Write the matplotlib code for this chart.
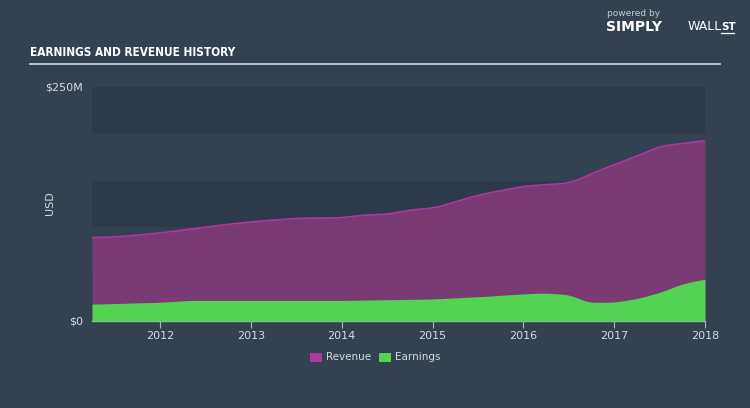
import matplotlib
matplotlib.use("Agg")
import matplotlib.pyplot as plt
from matplotlib.patches import Rectangle
import numpy as np

# Data (decimal years, values in $M)
rev_x = [2011.25, 2011.55, 2012.0, 2012.33, 2012.55, 2013.0, 2013.55, 2014.0, 2014.2, 2014.53, 2014.75,
         2015.0, 2015.24, 2015.52, 2015.74, 2016.0, 2016.3, 2016.52, 2016.74, 2017.0, 2017.28, 2017.5, 2017.72, 2018.0]
rev_y = [89, 90, 94, 98, 101, 106, 110, 110, 113, 114, 119,
         120, 127, 135, 139, 144, 146, 147, 157, 167, 177, 187, 189, 193]
earn_x = [2011.25, 2012.0, 2012.33, 2013.0, 2014.0, 2015.0, 2015.52, 2016.0, 2016.24, 2016.52, 2016.7,
          2017.0, 2017.28, 2017.55, 2017.72, 2018.0]
earn_y = [18, 20, 22, 22, 22, 23.5, 26, 29, 30, 28, 20,
          20, 24.5, 32, 39, 45]
year_ticks = [2012, 2013, 2014, 2015, 2016, 2017, 2018]
y_ticks = [0, 250]
y_tick_labels = ["$0", "$250M"]
legend_labels = ["Revenue", "Earnings"]

BG = "#334151"
BAND = "#2d3a49"
REV_FILL = "#7a3a73"
REV_LINE = "#b0379c"
EARN = "#52d452"
TXT = "#d5dbe2"

fig = plt.figure(figsize=(7.5, 4.08), dpi=100)
fig.patch.set_facecolor(BG)
ax = fig.add_axes([92/750, 1-321/408, (705-92)/750, (321-87)/408])
ax.set_facecolor(BG)
ax.set_xlim(2011.25, 2018.0)
ax.set_ylim(0, 250)

for lo in (0, 100, 200):
    ax.axhspan(lo, lo + 50, color=BAND, zorder=0, lw=0)

rx = np.array(rev_x); ry = np.array(rev_y)
ex = np.array(earn_x); ey = np.array(earn_y)
xs = np.linspace(2011.25, 2018.0, 600)
def smooth(x, y, xs, k):
    yi = np.interp(xs, x, y)
    pad = np.pad(yi, k, mode="edge")
    return np.convolve(pad, np.ones(2*k+1)/(2*k+1), mode="valid")
rs = smooth(rx, ry, xs, 12)
es = smooth(ex, ey, xs, 8)
ax.fill_between(xs, 0, rs, color=REV_FILL, lw=0, zorder=2)
ax.plot(xs, rs, color=REV_LINE, lw=1.2, zorder=3)
ax.fill_between(xs, 0, es, color=EARN, lw=0, zorder=4)

for s in ax.spines.values():
    s.set_visible(False)
ax.spines["bottom"].set_visible(True)
ax.spines["bottom"].set_color("#aab4bf")
ax.spines["bottom"].set_linewidth(1)
ax.set_xticks(year_ticks)
ax.set_xticklabels([str(y) for y in year_ticks])
ax.tick_params(axis="x", colors="#aab4bf", labelcolor=TXT, length=5, labelsize=8, pad=2)
ax.set_yticks([])

for v, lab in zip(y_ticks, y_tick_labels):
    ax.text(-0.015, v, lab, transform=ax.get_yaxis_transform(), ha="right",
            va="center", color=TXT, fontsize=8)
fig.text(50/750, 1-203/408, "USD", rotation=90, ha="center", va="center", color=TXT, fontsize=8)

# Title
fig.text(30/750, 1-52/408, "EARNINGS AND REVENUE HISTORY", color="white", fontsize=8.5,
         fontweight="bold", family="DejaVu Sans", fontstretch="condensed", va="center", ha="left")
fig.add_artist(plt.Line2D([30/750, 720/750], [1-64/408, 1-64/408], color="#c5ccd4", lw=1.3))

# Logo text
fig.text(607/750, 1-14/408, "powered by", color="#c5ccd4", fontsize=6.5, ha="left", va="center")
fig.text(606/750, 1-27/408, "SIMPLY", color="white", fontsize=10, fontweight="bold", ha="left", va="center")
fig.text(688/750, 1-27/408, "WALL", color="white", fontsize=9, ha="left", va="center")
fig.text(721/750, 1-27/408, "ST", color="white", fontsize=7.5, fontweight="bold", ha="left", va="center")
fig.add_artist(plt.Line2D([721/750, 734/750], [1-33/408, 1-33/408], color="white", lw=0.9))

# Legend
for (x0, lab, col) in [(310, legend_labels[0], "#b0379c"), (379, legend_labels[1], EARN)]:
    fig.add_artist(Rectangle((x0/750, 1-362/408), 12/750, 9/408, transform=fig.transFigure,
                             color=col, lw=0))
    fig.text((x0+16)/750, 1-357.5/408, lab, color=TXT, fontsize=7.5, ha="left", va="center")

fig.savefig("out.png", dpi=100, facecolor=BG)
